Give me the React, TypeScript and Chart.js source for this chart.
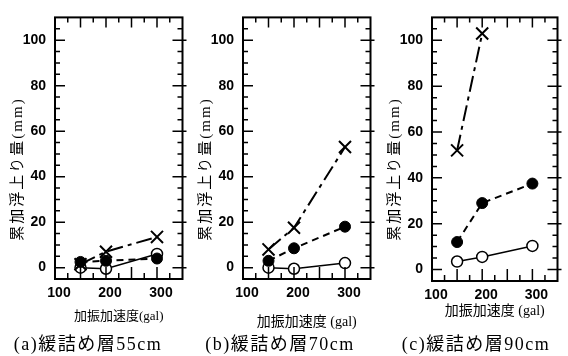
import React, { useEffect, useRef } from 'react';
import { Chart, registerables } from 'chart.js';

Chart.register(...registerables);

// ---- data ----
const accel = [150, 200, 300]; // 加振加速度 (gal)
const xTickLabels = [100, 200, 300];
const yTickLabels = [0, 20, 40, 60, 80, 100];

const aCross = [1.5, 7, 13.5];
const aFilled = [2.5, 3, 4];
const aOpen = [0, -0.5, 6];

const bCross = [8, 17.5, 53];
const bFilled = [3, 8.5, 18];
const bOpen = [0, -0.5, 2];

const cCross = [52, 103];
const cFilled = [12, 29, 37.5];
const cOpen = [3.5, 5.5, 10.3];

const yTitle = '累加浮上り量(mm)';
const xTitles = ['加振加速度(gal)', '加振加速度 (gal)', '加振加速度 (gal)'];
const captions = ['(a)緩詰め層55cm', '(b)緩詰め層70cm', '(c)緩詰め層90cm'];

// ---- layout ----
const W = 568;
const H = 356;
const X_MIN = 100, X_MAX = 350, Y_MIN = -5, Y_MAX = 110;

const panels = [
  { cross: aCross, filled: aFilled, open: aOpen, left: 0, width: 193, yw: 55, padBottom: 28, xh: 49, xts: 13 },
  { cross: bCross, filled: bFilled, open: bOpen, left: 193, width: 188, yw: 50, padBottom: 21, xh: 56, xts: 14 },
  { cross: cCross, filled: cFilled, open: cOpen, left: 381, width: 187, yw: 51, padBottom: 32, xh: 43, xts: 14 },
];
const captionCenters = [88, 280, 476];

const serifCJK = "'Liberation Serif', 'Noto Sans CJK JP', serif";
const tickFont = { family: "'Liberation Sans', Arial, sans-serif", size: 14, weight: 'bold' as const };

const toPts = (vals: number[]) => vals.map((v, i) => ({ x: accel[i], y: v }));

const frameTicks = {
  id: 'frameTicks',
  afterDatasetsDraw(chart: any) {
    const { ctx, chartArea, scales } = chart;
    const { left, right, top, bottom } = chartArea;
    const x = scales.x, y = scales.y;
    ctx.save();
    ctx.strokeStyle = '#000';
    ctx.lineWidth = 2;
    ctx.strokeRect(left, top, right - left, bottom - top);
    ctx.lineWidth = 1.5;
    ctx.beginPath();
    for (let v = X_MIN + 25; v < X_MAX; v += 25) {
      const px = x.getPixelForValue(v);
      const major = v % 50 === 0;
      const lb = major ? 12 : 6;
      const lt = major ? 10 : 5;
      ctx.moveTo(px, bottom);
      ctx.lineTo(px, bottom - lb);
      ctx.moveTo(px, top);
      ctx.lineTo(px, top + lt);
    }
    for (let v = 0; v < Y_MAX; v += 5) {
      const py = y.getPixelForValue(v);
      const major = v % 20 === 0;
      const len = major ? 10 : 5;
      ctx.moveTo(left, py);
      ctx.lineTo(left + len, py);
      ctx.moveTo(right + (major ? 4 : 0), py);
      ctx.lineTo(right - len, py);
    }
    ctx.stroke();
    // y axis title
    ctx.translate(left - 37, 169);
    ctx.rotate(-Math.PI / 2);
    ctx.font = `15px ${serifCJK}`;
    (ctx as any).letterSpacing = '2px';
    ctx.fillStyle = '#000';
    ctx.textAlign = 'center';
    ctx.textBaseline = 'middle';
    ctx.fillText(yTitle, 0, 0);
    ctx.restore();
  },
};

function Panel({ idx }: { idx: number }) {
  const ref = useRef<HTMLCanvasElement>(null);
  const p = panels[idx];
  useEffect(() => {
    if (!ref.current) return;
    const chart = new Chart(ref.current, {
      type: 'line',
      data: {
        datasets: [
          {
            data: toPts(p.filled),
            borderColor: '#000',
            backgroundColor: '#000',
            borderWidth: 2,
            borderDash: [7, 5],
            pointStyle: 'circle',
            pointRadius: 5.5,
            pointBackgroundColor: '#000',
            pointBorderColor: '#000',
            pointBorderWidth: 1,
            tension: 0,
          },
          {
            data: toPts(p.cross),
            borderColor: '#000',
            borderWidth: 2,
            borderDash: [16, 5, 4, 5],
            pointStyle: 'crossRot',
            pointRadius: 8.5,
            pointBorderColor: '#000',
            pointBorderWidth: 2,
            tension: 0,
          },
          {
            data: toPts(p.open),
            borderColor: '#000',
            borderWidth: 1.5,
            pointStyle: 'circle',
            pointRadius: 5.5,
            pointBackgroundColor: '#fff',
            pointBorderColor: '#000',
            pointBorderWidth: 1.5,
            tension: 0,
          },
        ],
      },
      options: {
        animation: false,
        responsive: false,
        maintainAspectRatio: false,
        layout: { padding: { top: 13, left: 0, right: p.width - (p.yw + 134), bottom: p.padBottom } },
        plugins: { legend: { display: false }, tooltip: { enabled: false } },
        scales: {
          x: {
            type: 'linear',
            min: X_MIN,
            max: X_MAX,
            afterBuildTicks: (s: any) => { s.ticks = xTickLabels.map((v) => ({ value: v })); },
            afterFit: (s: any) => { s.height = p.xh; },
            grid: { display: false, drawTicks: false },
            border: { display: false },
            ticks: { font: tickFont, color: '#000', padding: 6, maxRotation: 0, autoSkip: false, labelOffset: 4 },
            title: { display: true, text: xTitles[idx], color: '#000', font: { family: serifCJK, size: p.xts }, padding: { top: 4, bottom: 4 } },
          },
          y: {
            type: 'linear',
            min: Y_MIN,
            max: Y_MAX,
            afterBuildTicks: (s: any) => { s.ticks = yTickLabels.map((v) => ({ value: v })); },
            afterFit: (s: any) => { s.width = p.yw; },
            grid: { display: false, drawTicks: false },
            border: { display: false },
            ticks: { font: tickFont, color: '#000', padding: 9, autoSkip: false },
          },
        },
      },
      plugins: [frameTicks],
    } as any);
    return () => chart.destroy();
  }, []);
  return (
    <canvas
      ref={ref}
      width={p.width}
      height={H}
      style={{ position: 'absolute', left: p.left, top: 0, width: p.width, height: H }}
    />
  );
}

export default function App() {
  return (
    <div style={{ position: 'absolute', left: 0, top: 0, width: W, height: H, background: '#fff', overflow: 'hidden' }}>
      {panels.map((_, i) => (
        <Panel key={i} idx={i} />
      ))}
      {captions.map((c, i) => (
        <div
          key={c}
          style={{
            position: 'absolute',
            left: captionCenters[i] - 100,
            width: 200,
            top: 333,
            textAlign: 'center',
            fontFamily: serifCJK,
            fontSize: 18,
            letterSpacing: 1.5,
            lineHeight: '22px',
            color: '#000',
            whiteSpace: 'nowrap',
          }}
        >
          {c}
        </div>
      ))}
    </div>
  );
}
